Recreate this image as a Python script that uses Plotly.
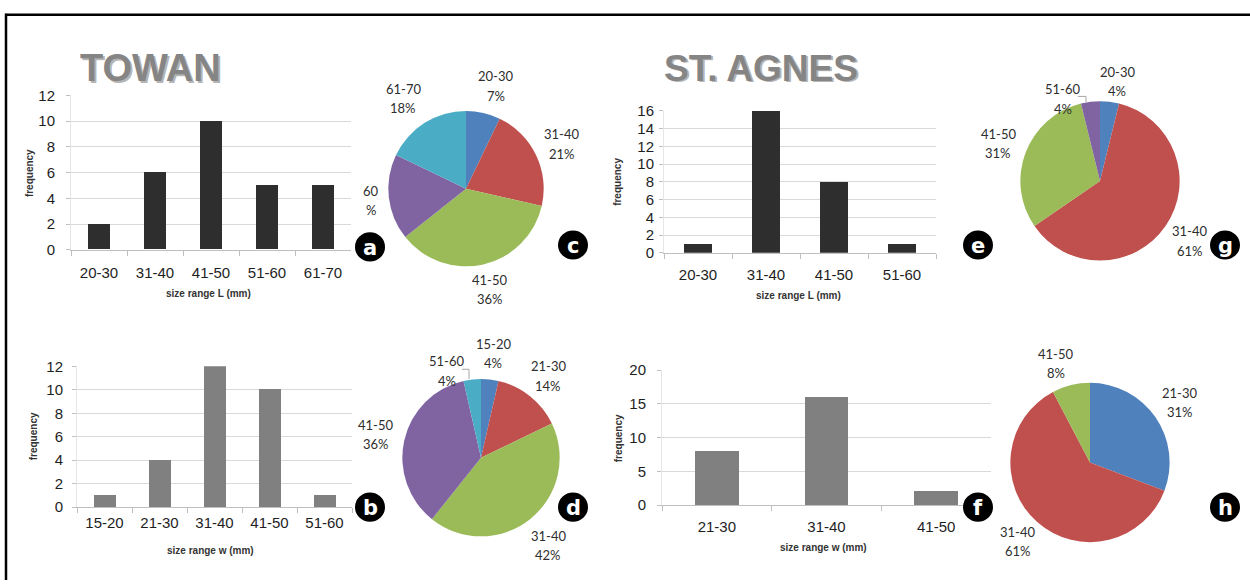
import numpy as np
import plotly.graph_objects as go

W, H = 1250, 588

# ---------------- data ----------------
towan_L_cats = ["20-30", "31-40", "41-50", "51-60", "61-70"]
towan_L_freq = [2, 6, 10, 5, 5]
towan_L_pct = ["7%", "21%", "36%", "18%", "18%"]

towan_w_cats = ["15-20", "21-30", "31-40", "41-50", "51-60"]
towan_w_freq = [1, 4, 12, 10, 1]
towan_w_pct = ["4%", "14%", "42%", "36%", "4%"]

agnes_L_cats = ["20-30", "31-40", "41-50", "51-60"]
agnes_L_freq = [1, 16, 8, 1]
agnes_L_pct = ["4%", "61%", "31%", "4%"]

agnes_w_cats = ["21-30", "31-40", "41-50"]
agnes_w_freq = [8, 16, 2]
agnes_w_pct = ["31%", "61%", "8%"]

titles = ["TOWAN", "ST. AGNES"]
panel_letters = ["a", "b", "c", "d", "e", "f", "g", "h"]

# ---------------- styles ----------------
pie_colors = ["#4F81BD", "#C0504D", "#9BBB59", "#8064A2", "#4BACC6"]
dark_bar = "#2e2e2e"
gray_bar = "#808080"
grid_col = "#d9d9d9"
axis_col = "#bfbfbf"
tick_font = dict(family="Liberation Sans, Arial", size=15, color="#1e1e1e")
title_font = dict(family="Liberation Sans, Arial", size=10, color="#333333")
label_font = dict(family="Lato, Open Sans", size=13, color="#2e2e2e")


def px(x):
    return x / W


def py(y):
    return 1 - y / H


fig = go.Figure()
annotations = []
shapes = []
layout_axes = {}

bar_panels = [
    # cats, vals, color, x0, x1, ytop, ybot, ymax, dtick, xtitle, xt_pos, yt_pos, ystandoff, xstandoff
    (towan_L_cats, towan_L_freq, dark_bar, 71, 351, 89, 248, 12, 2, "size range L (mm)", (209, 293), (29, 169), 8, 9),
    (towan_w_cats, towan_w_freq, gray_bar, 77, 352, 368, 513, 12, 2, "size range w (mm)", (210, 558), (33, 440), 6, 2),
    (agnes_L_cats, agnes_L_freq, dark_bar, 664, 936, 105, 251, 16, 2, "size range L (mm)", (798, 295), (618, 178), 2, 8),
    (agnes_w_cats, agnes_w_freq, gray_bar, 662, 991, 372, 511, 20, 5, "size range w (mm)", (823, 555), (618, 442), 8, 8),
]

for i, (cats, vals, col, x0, x1, yt, yb, ymax, dt, xtitle, xtp, ytp, ysd, xsd) in enumerate(bar_panels):
    n = i + 1
    xa = "x" if n == 1 else f"x{n}"
    ya = "y" if n == 1 else f"y{n}"
    fig.add_trace(go.Bar(x=cats, y=vals, marker=dict(color=col, line=dict(width=0)),
                         width=0.4, xaxis=xa, yaxis=ya, showlegend=False, hoverinfo="x+y"))
    kx = "xaxis" if n == 1 else f"xaxis{n}"
    ky = "yaxis" if n == 1 else f"yaxis{n}"
    layout_axes[kx] = dict(domain=[px(x0), px(x1)], anchor=ya, type="category",
                           range=[-0.5, len(cats) - 0.5], showgrid=False,
                           showline=True, linecolor=axis_col, linewidth=1,
                           ticks="outside", tickson="boundaries", ticklen=5, tickcolor=axis_col,
                           tickfont=tick_font, ticklabelstandoff=xsd, fixedrange=True)
    layout_axes[ky] = dict(domain=[py(yb), py(yt)], anchor=xa, range=[0, ymax], dtick=dt,
                           showgrid=True, gridcolor=grid_col, gridwidth=1, zeroline=False,
                           showline=True, linecolor="#e6e6e6", linewidth=1,
                           ticks="outside", ticklen=4, tickcolor=axis_col,
                           tickfont=tick_font, ticklabelstandoff=ysd, fixedrange=True)
    annotations.append(dict(text=f"<b>{xtitle}</b>", x=px(xtp[0]), y=py(xtp[1]), xref="paper", yref="paper",
                            showarrow=False, font=title_font, xanchor="center", yanchor="middle"))
    annotations.append(dict(text="<b>frequency</b>", x=px(ytp[0]), y=py(ytp[1]), xref="paper", yref="paper",
                            showarrow=False, font=title_font, xanchor="center", yanchor="middle", textangle=-90))

# ---------------- pies ----------------
pie_panels = [
    # cats, vals, pct, cx, cy, r, nudges {idx:(dx,dy)}, overrides {idx:(cat,pct)}
    (towan_L_cats, towan_L_freq, towan_L_pct, 466, 185, 80, {0: (6, -2), 3: (11, 0), 4: (-6, -3)}, {3: ("60", "%")}),
    (towan_w_cats, towan_w_freq, towan_w_pct, 481, 462, 81, {2: (0, 6), 4: (-22, 18)}, {}),
    (agnes_L_cats, agnes_L_freq, agnes_L_pct, 1100, 177, 82, {0: (4, 6), 3: (-24, 24)}, {}),
    (agnes_w_cats, agnes_w_freq, agnes_w_pct, 1090, 467, 82, {2: (-8, 4)}, {}),
]

for cats, vals, pct, cx, cy, r, nudges, overrides in pie_panels:
    fig.add_trace(go.Pie(labels=cats, values=vals, sort=False, direction="clockwise", rotation=0,
                         marker=dict(colors=pie_colors[:len(cats)], line=dict(width=0)),
                         textinfo="none", showlegend=False, hoverinfo="label+percent",
                         domain=dict(x=[px(cx - r), px(cx + r)], y=[py(cy + r), py(cy - r)])))
    tot = float(sum(vals))
    cum = 0.0
    for j, v in enumerate(vals):
        mid = (cum + v / 2.0) / tot * 2 * np.pi
        cum += v
        lx = cx + 1.33 * r * np.sin(mid)
        ly = cy - 1.33 * r * np.cos(mid)
        dx, dy = nudges.get(j, (0, 0))
        lx += dx
        ly += dy
        ctext, ptext = overrides.get(j, (cats[j], pct[j]))
        annotations.append(dict(text=ctext, x=px(lx), y=py(ly - 10), xref="paper", yref="paper",
                                showarrow=False, font=label_font, xanchor="center", yanchor="middle"))
        annotations.append(dict(text=ptext, x=px(lx), y=py(ly + 10), xref="paper", yref="paper",
                                showarrow=False, font=label_font, xanchor="center", yanchor="middle"))

# small leader lines for the crowded labels
for path in [[(462, 371), (469, 371), (469, 381)], [(1078, 90), (1086, 90), (1086, 96)]]:
    d = "M " + " L ".join(f"{px(a)},{py(b)}" for a, b in path)
    shapes.append(dict(type="path", path=d, xref="paper", yref="paper",
                       line=dict(color="#a6a6a6", width=1)))

# ---------------- titles ----------------
for t, (tx, ty, fs) in zip(titles, [(78, 61, 38), (662, 61, 37)]):
    annotations.append(dict(text=f"<b>{t}</b>", x=px(tx + 1.5), y=py(ty + 1.5), xref="paper", yref="paper",
                            showarrow=False, xanchor="left", yanchor="middle",
                            font=dict(family="Liberation Sans, Arial", size=fs, color="rgba(40,40,40,0.35)")))
    annotations.append(dict(text=f"<b>{t}</b>", x=px(tx), y=py(ty), xref="paper", yref="paper",
                            showarrow=False, xanchor="left", yanchor="middle",
                            font=dict(family="Liberation Sans, Arial", size=fs, color="#858585")))

# ---------------- letter badges ----------------
badge_pos = [(370, 245), (370, 513), (573, 243), (573, 513), (978, 243), (978, 513), (1225, 243), (1225, 513)]
for letter, (bx, by) in zip(panel_letters, badge_pos):
    shapes.append(dict(type="circle", xref="paper", yref="paper",
                       x0=px(bx - 15), x1=px(bx + 15), y0=py(by + 15), y1=py(by - 15),
                       fillcolor="black", line=dict(color="black", width=0), layer="above"))
    annotations.append(dict(text=f"<b>{letter}</b>", x=px(bx), y=py(by + 1), xref="paper", yref="paper",
                            showarrow=False, xanchor="center", yanchor="middle",
                            font=dict(family="DejaVu Sans, Liberation Sans", size=21, color="white")))

# ---------------- frame ----------------
shapes.append(dict(type="line", xref="paper", yref="paper", x0=px(6), x1=px(6), y0=py(5), y1=0,
                   line=dict(color="black", width=2.5)))
shapes.append(dict(type="line", xref="paper", yref="paper", x0=px(5), x1=1, y0=py(6), y1=py(6),
                   line=dict(color="black", width=2.5)))

fig.update_layout(width=W, height=H, margin=dict(l=0, r=0, t=0, b=0),
                  paper_bgcolor="white", plot_bgcolor="white",
                  annotations=annotations, shapes=shapes, showlegend=False,
                  bargap=0, **layout_axes)

fig.write_html("out.html", config={"displayModeBar": False},
               post_script="document.body.style.margin='0';document.body.style.overflow='hidden';")
